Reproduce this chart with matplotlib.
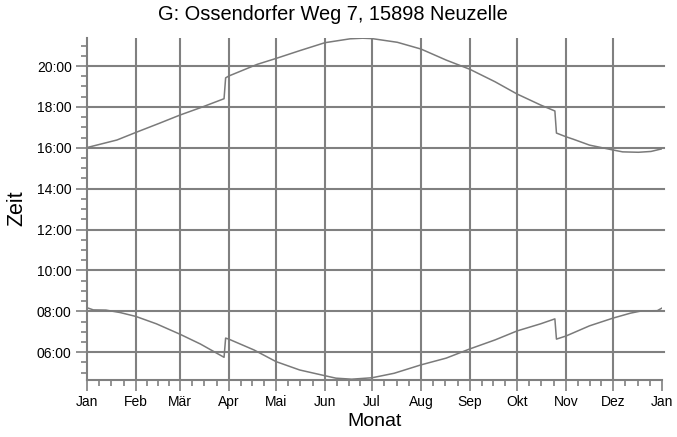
import matplotlib
matplotlib.use("Agg")
import matplotlib.pyplot as plt

plt.rcParams['font.family'] = ['Liberation Sans', 'DejaVu Sans']

# Tag im Jahr (0 = 1. Jan) und Uhrzeit in Stunden
tage_untergang = [1, 19, 31, 46, 59, 72, 87, 88, 90, 108, 120, 135, 151, 167, 175,
                  181, 197, 212, 228, 243, 259, 273, 288, 297, 298, 304, 309, 319,
                  334, 340, 350, 358, 365]
untergang = [16.03, 16.38, 16.75, 17.20, 17.60, 17.96, 18.40, 19.42, 19.51, 20.08,
             20.37, 20.75, 21.14, 21.33, 21.36, 21.34, 21.16, 20.83, 20.29, 19.84,
             19.23, 18.63, 18.09, 17.80, 16.72, 16.54, 16.41, 16.13, 15.89, 15.80,
             15.78, 15.82, 15.95]

tage_aufgang = [1, 4, 12, 21, 31, 44, 59, 72, 87, 88, 90, 106, 120, 135, 151, 158,
                168, 181, 195, 212, 228, 243, 259, 273, 288, 297, 298, 304, 319,
                334, 345, 352, 362, 365]
aufgang = [8.15, 8.07, 8.06, 7.94, 7.75, 7.39, 6.88, 6.40, 5.75, 6.69, 6.64, 6.11,
           5.54, 5.13, 4.85, 4.73, 4.68, 4.75, 4.97, 5.38, 5.71, 6.16, 6.60, 7.04,
           7.39, 7.63, 6.64, 6.79, 7.29, 7.67, 7.91, 8.02, 8.03, 8.16]

monat_start = [0, 31, 59, 90, 120, 151, 181, 212, 243, 273, 304, 334, 365]
monat_namen = ['Jan', 'Feb', 'Mär', 'Apr', 'Mai', 'Jun', 'Jul', 'Aug', 'Sep',
               'Okt', 'Nov', 'Dez', 'Jan']

stunden = [6, 8, 10, 12, 14, 16, 18, 20]
stunden_namen = ['06:00', '08:00', '10:00', '12:00', '14:00', '16:00', '18:00', '20:00']

titel = 'G: Ossendorfer Weg 7, 15898 Neuzelle'

grau = '#808080'
linie = '#7a7a7a'

fig = plt.figure(figsize=(6.77, 4.37), dpi=100)
ax = fig.add_axes([87 / 677, 1 - 380 / 437, 575 / 677, 342 / 437])

ax.plot(tage_untergang, untergang, color=linie, lw=1.1)
ax.plot(tage_aufgang, aufgang, color=linie, lw=1.1)

ax.set_xlim(0, 365)
ax.set_ylim(4.64, 21.37)

# Gitter von Hand, ohne Linie am rechten Rand
for t in monat_start[1:-1]:
    ax.axvline(t, color=grau, lw=1.5, zorder=0)
for h in stunden:
    ax.axhline(h, color=grau, lw=1.5, zorder=0, xmax=1.003, clip_on=False)

ax.set_xticks(monat_start)
ax.set_xticklabels(monat_namen)
minor_x = []
for a, b in zip(monat_start[:-1], monat_start[1:]):
    minor_x += [a + (b - a) * k / 4 for k in (1, 2, 3)]
ax.set_xticks(minor_x, minor=True)

ax.set_yticks(stunden)
ax.set_yticklabels(stunden_namen)
ax.set_yticks([h / 2 for h in range(10, 43)], minor=True)

ax.tick_params(which='major', length=8, width=1.2, color=grau, labelsize=10, pad=3)
ax.tick_params(which='minor', length=4, width=1.2, color=grau)

for s in ['top', 'right']:
    ax.spines[s].set_visible(False)
for s in ['left', 'bottom']:
    ax.spines[s].set_color(grau)
    ax.spines[s].set_linewidth(1.5)

fig.text(333 / 677, 1 - 14 / 437, titel, ha='center', va='center', fontsize=14.4)
fig.text(17 / 677, 1 - 208 / 437, 'Zeit', ha='center', va='center', rotation=90, fontsize=15.5)
fig.text(375 / 677, 1 - 422 / 437, 'Monat', ha='center', va='center', fontsize=14)

fig.savefig('out.png', dpi=100)
